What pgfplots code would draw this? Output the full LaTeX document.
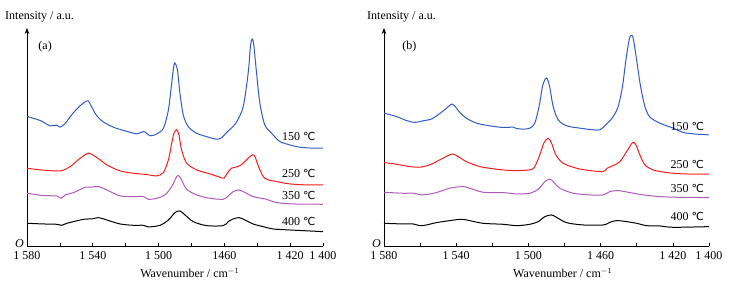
\documentclass[border=0pt]{standalone}
\usepackage{pgfplots}
\pgfplotsset{compat=1.18}
\usetikzlibrary{arrows.meta}
\usepackage{fontspec}
\setmainfont{Liberation Serif}
\newfontfamily\dejavu{DejaVu Sans}
\newcommand{\degC}{{\dejavu\fontsize{11}{13}\selectfont ℃}}
\definecolor{cblue}{RGB}{50,90,195}
\definecolor{cred}{RGB}{245,30,30}
\definecolor{cpurple}{RGB}{175,90,185}
\pgfplotsset{
  spec/.style={
    anchor=south west, scale only axis, height=218pt,
    xmin=1400, xmax=1580, x dir=reverse, ymin=0, ymax=653,
    axis x line=bottom, axis y line=left,
    x axis line style={-},
    y axis line style={-{Stealth[length=6pt,width=4.5pt]}},
    xtick={1400,1420,1440,1460,1480,1500,1520,1540,1560,1580},
    ytick=\empty,
    tick align=inside, major tick length=3pt,
    tick style={black, line width=0.6pt},
    axis line style={line width=0.6pt},
    every tick label/.append style={font=\fontsize{12}{14}\selectfont},
    xticklabel style={yshift=-1.5pt},
    xlabel={Wavenumber / cm$^{-1}$},
    xlabel style={at={(axis description cs:0.55,0)}, anchor=north, yshift=-18pt, font=\fontsize{12}{14}\selectfont},
    clip=false,
    every axis plot/.append style={line width=1pt, smooth, tension=0.5, mark=none},
  }
}
\begin{document}
\fontsize{12}{14}\selectfont
\begin{tikzpicture}
\path[use as bounding box] (0,0) rectangle (732pt,289pt);
% ---------------- panel (a)
\begin{axis}[spec, at={(27pt,43pt)}, width=296pt,
  xticklabels={1 400,1 420,,1460,,1 500,,1 540,,1 580}]
\addplot[cblue] coordinates {
(1580,388)(1572,376)(1566,360)(1562,362)(1560,356)(1557,366)(1552,398)(1547,423)(1543,435)(1541,420)(1538,393)(1534,373)(1527,355)(1519,343)(1513,336)(1509,343)(1505,330)(1501,336)(1497,353)(1494,408)(1492,488)(1490.6,543)(1489.6,545)(1488.4,523)(1487,458)(1485,393)(1482,358)(1477,338)(1471,328)(1465,320)(1462,323)(1458,343)(1453,368)(1448.5,418)(1445.5,518)(1444.1,598)(1443.1,620)(1442.1,603)(1440.4,518)(1438.4,428)(1435.4,363)(1431.3,338)(1426.3,313)(1420.2,303)(1414.1,296)(1406,293)(1400,293)};
\addplot[cred] coordinates {
(1580,233)(1571.9,228)(1559.8,225)(1553.7,238)(1547.6,263)(1542.6,278)(1539.5,271)(1535.5,258)(1531.5,243)(1523.4,225)(1515.3,218)(1507.2,214)(1501.1,210)(1497.1,220)(1494.0,258)(1492.0,308)(1490.6,338)(1489.0,348)(1487.6,333)(1486.0,288)(1482.9,248)(1476.8,228)(1468.8,216)(1462.7,206)(1460.3,203)(1458.2,218)(1455.6,233)(1451.6,238)(1448.5,248)(1445.5,263)(1442.9,273)(1441.4,268)(1438.8,233)(1435.4,203)(1428.3,193)(1420.2,186)(1410.1,183)(1400,183)};
\addplot[cpurple] coordinates {
(1580,158)(1569.9,151)(1561.8,150)(1559.2,143)(1556.7,153)(1551.7,160)(1544.6,176)(1541.6,176)(1536.5,178)(1531.5,168)(1523.4,150)(1515.3,148)(1509.2,148)(1506.2,140)(1501.1,143)(1496.1,153)(1492.0,178)(1489.0,208)(1487.6,210)(1486.0,198)(1482.9,170)(1476.8,153)(1468.8,143)(1460.7,140)(1457.6,150)(1454.6,163)(1451.6,168)(1448.5,163)(1442.5,148)(1434.4,140)(1428.3,130)(1418.2,126)(1400,125)};
\addplot[black] coordinates {
(1580,68)(1569.9,66)(1561.8,65)(1558.8,62)(1555.7,68)(1545.6,80)(1540.6,81)(1536.5,85)(1531.5,78)(1523.4,66)(1515.3,62)(1509.2,62)(1506.2,57)(1499.1,62)(1494.0,78)(1490.0,100)(1487.0,105)(1483.9,93)(1478.9,73)(1470.8,61)(1460.7,61)(1457.6,73)(1454.6,81)(1451.0,85)(1447.5,78)(1442.5,66)(1436.4,58)(1430.3,51)(1420.2,48)(1400,43)};
\node[anchor=east] at (axis cs:1402,328) {150 \degC};
\node[anchor=east] at (axis cs:1402,216) {250 \degC};
\node[anchor=east] at (axis cs:1402,150) {350 \degC};
\node[anchor=east] at (axis cs:1402,73) {400 \degC};
\node at (axis cs:1569,598) {(a)};
\node[anchor=south east, font=\itshape, inner sep=0pt] at ([xshift=-3pt,yshift=-2pt]axis cs:1580,0) {O};
\node[anchor=west, inner sep=0pt] at ([xshift=-22pt,yshift=11pt]rel axis cs:0,1) {Intensity / a.u.};
\end{axis}
% ---------------- panel (b)
\begin{axis}[spec, at={(384pt,43pt)}, width=325pt,
  xticklabels={1 400,1 420,,1 460,,1 500,,1 540,,1 580}]
\addplot[cblue] coordinates {
(1580,398)(1573.2,388)(1567.6,376)(1563.0,370)(1558.4,375)(1553.8,380)(1550.1,393)(1546.4,408)(1543.6,421)(1542.1,425)(1540.3,416)(1538.0,400)(1534.4,383)(1528.8,368)(1521.4,360)(1514.0,355)(1508.5,356)(1506.6,352)(1502.9,350)(1499.2,353)(1496.5,368)(1494.1,418)(1492.2,478)(1490.6,501)(1489.6,501)(1488.2,476)(1486.3,418)(1483.5,378)(1478.9,360)(1471.5,353)(1464.1,348)(1460.4,348)(1457.7,360)(1455.8,370)(1453.0,388)(1450.3,418)(1447.9,478)(1446.0,558)(1444.2,618)(1443.2,630)(1442.0,623)(1440.1,558)(1437.9,478)(1435.5,418)(1432.7,386)(1427.2,368)(1419.8,353)(1414.2,340)(1406.8,335)(1400,333)};
\addplot[cred] coordinates {
(1580,250)(1573.2,245)(1565.8,238)(1560.2,236)(1554.7,243)(1549.1,258)(1543.6,273)(1541.4,275)(1539.0,268)(1534.4,253)(1527.0,238)(1517.7,230)(1508.5,226)(1499.2,228)(1496.5,238)(1493.7,273)(1491.5,308)(1489.1,323)(1487.2,308)(1484.8,273)(1480.8,248)(1473.4,233)(1466.0,226)(1458.6,223)(1456.4,233)(1453.0,241)(1449.3,253)(1445.6,283)(1442.3,310)(1440.5,303)(1438.3,273)(1435.5,243)(1430.9,228)(1423.5,220)(1414.2,216)(1400,215)};
\addplot[cpurple] coordinates {
(1580,161)(1569.5,158)(1563.9,158)(1558.4,153)(1551.0,160)(1543.6,173)(1536.2,178)(1532.5,173)(1525.1,161)(1514.0,160)(1506.6,156)(1499.2,158)(1494.6,170)(1490.9,193)(1488.2,200)(1486.3,193)(1482.6,173)(1475.2,158)(1466.0,153)(1458.6,153)(1454.9,163)(1450.3,166)(1443.8,160)(1436.4,153)(1427.2,148)(1417.9,146)(1400,145)};
\addplot[black] coordinates {
(1580,68)(1569.5,66)(1563.9,66)(1560.2,61)(1556.5,63)(1551.0,70)(1543.6,76)(1537.1,80)(1532.5,76)(1525.1,68)(1514.0,65)(1506.6,61)(1499.2,65)(1494.6,73)(1490.9,88)(1487.2,93)(1484.5,86)(1478.9,70)(1469.7,63)(1458.6,63)(1454.9,71)(1451.2,76)(1445.6,73)(1440.1,68)(1434.6,61)(1427.2,60)(1419.8,56)(1400,58)};
\node[anchor=east] at (axis cs:1400.5,358) {150 \degC};
\node[anchor=east] at (axis cs:1400.5,243) {250 \degC};
\node[anchor=east] at (axis cs:1400.5,173) {350 \degC};
\node[anchor=east] at (axis cs:1400.5,88) {400 \degC};
\node at (axis cs:1566,598) {(b)};
\node[anchor=south east, font=\itshape, inner sep=0pt] at ([xshift=-3pt,yshift=-2pt]axis cs:1580,0) {O};
\node[anchor=west, inner sep=0pt] at ([xshift=-17pt,yshift=11pt]rel axis cs:0,1) {Intensity / a.u.};
\end{axis}
\end{tikzpicture}
\end{document}
